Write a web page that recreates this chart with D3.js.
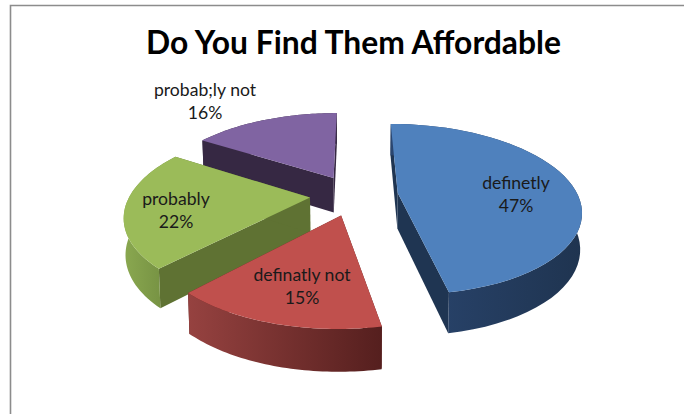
<!DOCTYPE html>
<html>
<head>
<meta charset="utf-8">
<script src="https://cdnjs.cloudflare.com/ajax/libs/d3/7.8.5/d3.min.js"></script>
<style>
html,body{margin:0;padding:0;background:#fff;overflow:hidden}
svg{display:block}
text{font-family:Lato,"Open Sans",sans-serif}
</style>
</head>
<body>
<svg id="chart" width="684" height="414"></svg>
<script>
// Survey answers, in clockwise order from twelve o'clock
const categories = ["definetly", "definatly not", "probably", "probab;ly not"];
const shares = [47, 15, 22, 16];
const chartTitle = "Do You Find Them Affordable";

const topColors  = ["#4f81bd", "#c0504d", "#9bbb59", "#8064a2"];
const wallColors = ["#1f3552", "#5a211f", "#5f7233", "#362843"];
const rimStops   = [["#2a4670", "#1f3450"], ["#964240", "#551f1e"], ["#8aa850", "#6f8a3e"], ["#362843", "#362843"]];
const labelSpots = [[516, 183], [302, 275], [176, 199], [205, 90]];

const width = 684, height = 414;
const svg = d3.select("#chart");

// Tilted, perspective view of the pie plane
const view = {cx: 354, cy: 195, radiusX: 180, radiusY: 83, persp: 0.19, depth: 35.5, floorScale: 0.992};
const explode = 0.245;

const slices = d3.pie().sort(null).value(d => d).startAngle(0).endAngle(2 * Math.PI)(shares)
  .map((s, i) => ({...s, i, mid: (s.startAngle + s.endAngle) / 2}));

function project(s, radius, angle, floor) {
  const X = explode * Math.sin(s.mid) + radius * Math.sin(angle);
  const Z = explode * Math.cos(s.mid) + radius * Math.cos(angle);
  const w = 1 + view.persp * Z;
  const k = floor ? view.floorScale : 1;
  return [
    view.cx + k * view.radiusX * X / w,
    view.cy - view.radiusY * Z / w + (floor ? view.depth / Math.pow(w, 0.7) : 0)
  ];
}

const line = d3.line();
const arcAngles = s => d3.range(0, 49).map(t => s.startAngle + (s.endAngle - s.startAngle) * t / 48);

const defs = svg.append("defs");
slices.forEach(s => {
  // The rim darkens toward the right of the visible arc
  const g = defs.append("linearGradient").attr("id", "rim" + s.i)
    .attr("x1", 0).attr("x2", 1).attr("y1", 0).attr("y2", 0);
  g.append("stop").attr("offset", "0%").attr("stop-color", rimStops[s.i][0]);
  g.append("stop").attr("offset", "100%").attr("stop-color", rimStops[s.i][1]);
});

// Chart frame: only top and left edges fall inside the view
svg.append("path")
  .attr("d", line([[10.5, height], [10.5, 5.5], [width, 5.5]]))
  .attr("fill", "none").attr("stroke", "#8c8c8c").attr("stroke-width", 1.6);

svg.append("text")
  .attr("x", 353.5).attr("y", 53.5)
  .attr("text-anchor", "middle").attr("font-size", 31.8).attr("font-weight", 700)
  .attr("fill", "#000").text(chartTitle);

// Paint slices back to front
const ordered = slices.slice().sort((a, b) => Math.cos(b.mid) - Math.cos(a.mid));
const pieLayer = svg.append("g");

ordered.forEach(s => {
  const g = pieLayer.append("g");
  const apex = project(s, 0, s.mid, false), apexF = project(s, 0, s.mid, true);
  [s.startAngle, s.endAngle].forEach(a => {
    const q = [apex, project(s, 1, a, false), project(s, 1, a, true), apexF];
    g.append("path").attr("d", line(q) + "Z")
      .attr("fill", wallColors[s.i]);
  });
  const angles = arcAngles(s);
  const rim = angles.map(a => project(s, 1, a, false))
    .concat(angles.slice().reverse().map(a => project(s, 1, a, true)));
  g.append("path").attr("d", line(rim) + "Z").attr("fill", `url(#rim${s.i})`);
  const top = [apex].concat(angles.map(a => project(s, 1, a, false)));
  g.append("path").attr("d", line(top) + "Z").attr("fill", topColors[s.i]);
});

// Two-line data labels: category, then share
const labels = svg.append("g").attr("font-size", 17.6).attr("fill", "#1a1a1a").attr("text-anchor", "middle");
slices.forEach(s => {
  const [x, y] = labelSpots[s.i];
  const t = labels.append("text").attr("x", x).attr("y", y + 5.5);
  t.append("tspan").attr("x", x).text(categories[s.i]);
  t.append("tspan").attr("x", x).attr("dy", 23).text(shares[s.i] + "%");
});
</script>
</body>
</html>
